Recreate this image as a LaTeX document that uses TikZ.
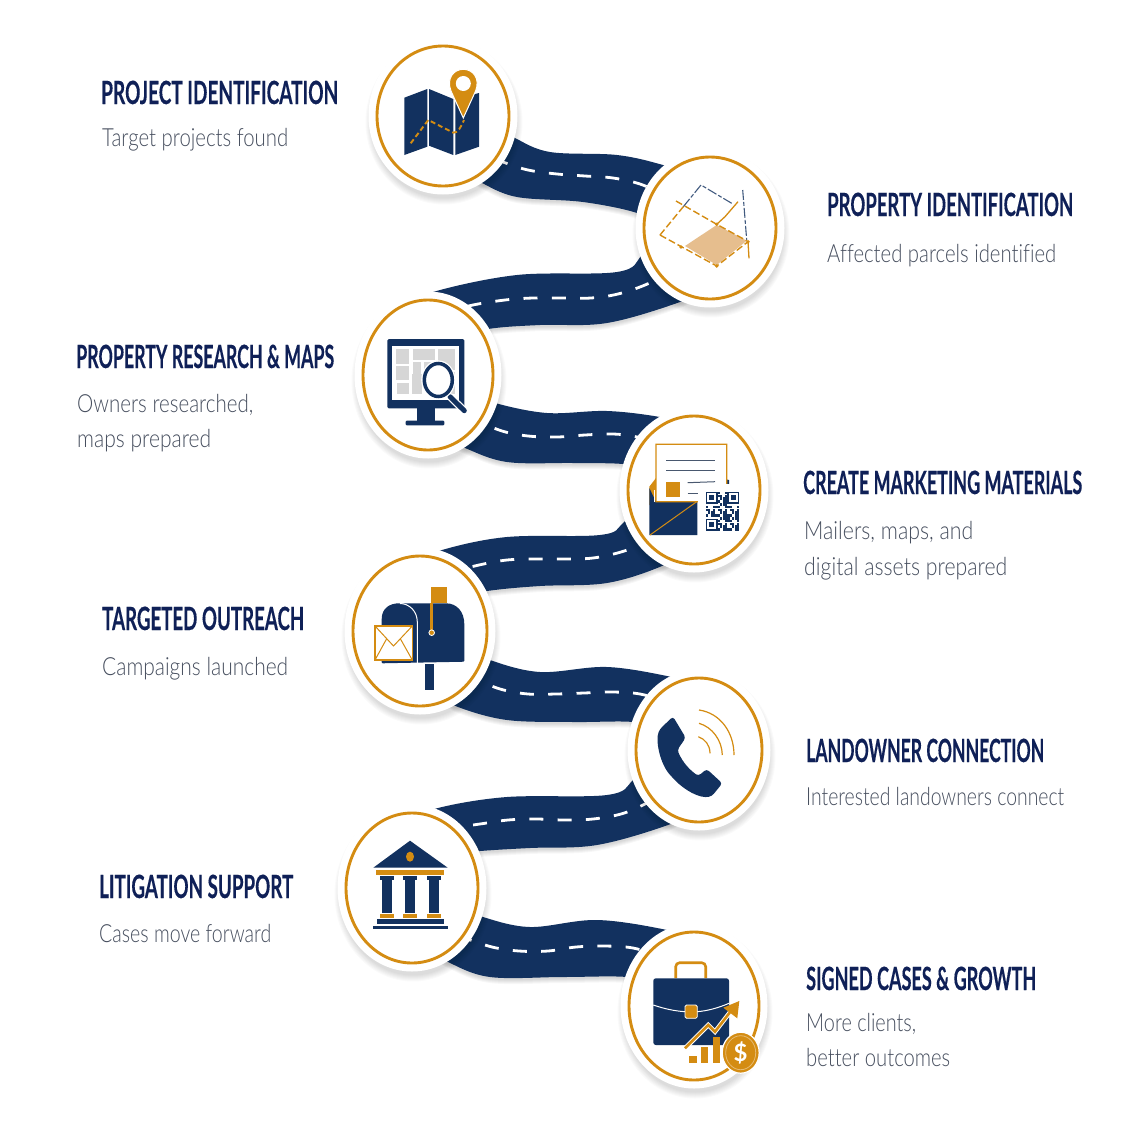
\documentclass[tikz,border=0pt]{standalone}
\usepackage{fontspec}
\usepackage{graphicx}
\usetikzlibrary{shapes.geometric}
\setmainfont{Lato}
\newfontfamily\subfont{Lato Light}[Ligatures=NoCommon]
\newfontfamily\headfont{Lato Bold}[FakeBold=0.35]
\definecolor{navy}{HTML}{12315F}
\definecolor{ink}{HTML}{0F2057}
\definecolor{gold}{HTML}{D48C12}
\definecolor{subtext}{HTML}{474F5F}
\definecolor{tan}{HTML}{E6BE8E}
\definecolor{tile}{HTML}{D6D6D6}
\tikzset{
  ringnode/.style={ellipse,draw=gold,line width=2.9pt,inner sep=0pt,fill=white},
  titletext/.style={anchor=base west,inner sep=0pt,text=ink},
  subnode/.style={anchor=base west,inner sep=0pt,text=subtext},
  dashline/.style={white,line width=2.8pt,dash pattern=on 14pt off 14.3pt,dash phase=7pt},
  golddash/.style={gold,line width=1.4pt,dash pattern=on 7pt off 3pt},
  darkdash/.style={navy!80,line width=1.1pt,dash pattern=on 10pt off 2pt on 4pt off 2pt},
}
\newcommand\mktitle[5]{\node[titletext] (#1) at (#2,#3) {\resizebox{#4pt}{\height}{\fontsize{32}{32}\headfont #5}};}
\newcommand\mksub[5]{\node[subnode] (#1) at (#2,#3) {\resizebox{#4pt}{\height}{\fontsize{25}{25}\subfont #5}};}
\newcommand\mkroad[3]{%
  \foreach \k in {2,3,4,5,6}{\begin{scope}[yshift=-\k pt]
    \fill[black,opacity=.03] plot[smooth,tension=.6] coordinates {#1} -- plot[smooth,tension=.6] coordinates {#2} -- cycle;
  \end{scope}}
  \fill[navy] plot[smooth,tension=.6] coordinates {#1} -- plot[smooth,tension=.6] coordinates {#2} -- cycle;
  \draw[dashline] plot[smooth,tension=.6] coordinates {#3};
}
\newcommand\mkdisc[5]{%
  \foreach \k in {1,...,7}{\fill[black,opacity=.02] (#2+1,#3+6) ellipse [x radius=#4+5.5+\k*1.0 pt,y radius=#5+5.5+\k*1.0 pt];}
  \fill[white] (#2,#3) ellipse [x radius=#4+8.5 pt,y radius=#5+8.5 pt];
  \node[ringnode,minimum width=#4*2pt,minimum height=#5*2pt] (#1) at (#2,#3) {};
}
\begin{document}
\begin{tikzpicture}[x=1pt,y=-1pt]
\useasboundingbox (0,0) rectangle (1122,1122);
\fill[white] (0,0) rectangle (1122,1122);

% roads
\mkroad{(500,128)(515,138)(550,152)(617,155)(663,165)(690,175)}{(650,225)(637,213)(583,202)(517,197)(482,183)(470,175)}{(475,150)(503,162)(528,170)(557,174)(585,176)(613,178)(640,184)(665,195)}
\mkroad{(660,228)(642,255)(617,272)(517,275)(433,292)(415,305)}{(440,340)(488,329)(540,325)(607,323)(680,302)(700,290)}{(447,312)(473,305)(505,300)(533,298)(563,298)(591,298)(618,294)(645,285)(672,272)}
\mkroad{(480,395)(495,403)(547,413)(607,411)(660,417)(690,425)}{(650,470)(623,464)(573,463)(507,462)(465,448)(450,440)}{(475,420)(502,431)(528,436)(557,437)(585,435)(613,434)(637,437)(665,445)}
\mkroad{(642,498)(623,523)(600,535)(507,537)(442,550)(420,562)}{(440,600)(487,591)(540,586)(607,583)(662,566)(685,550)}{(452,572)(479,565)(507,560)(536,559)(564,559)(593,558)(621,552)(648,542)}
\mkroad{(475,650)(490,660)(540,672)(607,667)(672,677)(700,685)}{(660,730)(633,722)(573,722)(507,720)(458,707)(440,695)}{(473,678)(500,689)(528,694)(556,694)(584,693)(612,692)(640,694)(668,702)}
\mkroad{(650,755)(633,780)(607,795)(507,797)(438,808)(415,820)}{(440,855)(480,851)(530,848)(597,845)(668,825)(690,812)}{(452,828)(480,824)(508,820)(536,819)(564,820)(593,819)(621,814)(643,805)(668,792)}
\mkroad{(470,910)(483,917)(530,927)(597,920)(667,930)(695,940)}{(655,985)(627,977)(563,977)(490,977)(448,962)(430,950)}{(465,938)(492,947)(519,951)(548,951)(576,947)(604,946)(633,948)(660,956)}

% discs
\mkdisc{c1}{443}{116}{66}{70}
\mkdisc{c2}{710}{228}{66}{71}
\mkdisc{c3}{428}{375}{65}{75}
\mkdisc{c4}{694}{490}{66}{74}
\mkdisc{c5}{420}{631}{67}{75}
\mkdisc{c6}{699}{750}{63}{72}
\mkdisc{c7}{412}{888}{66}{75}
\mkdisc{c8}{694}{1006}{65}{74}

% icon 1: map
\fill[navy] (404.3,97.7) -- (427.3,89) -- (427.3,146.7) -- (404.3,155) -- cycle;
\fill[navy] (429,89) -- (453.3,99) -- (453.3,155) -- (429,145.7) -- cycle;
\fill[navy] (455.3,99) -- (479,93) -- (479,146.7) -- (455.3,155) -- cycle;
\draw[gold,line width=1.9pt,dash pattern=on 5pt off 3pt] (410.7,143.3) -- (428.3,120) -- (453.3,132.7) .. controls (458,133) and (461,127) .. (464,120);
\fill[gold,draw=white,line width=1pt] (463.3,118) -- (451,91) .. controls (446,78) and (454,69.3) .. (463.3,69.3) .. controls (472.6,69.3) and (480.6,78) .. (475.6,91) -- cycle;
\fill[white] (463.3,83.5) circle [radius=7.5pt];

% icon 2: parcel
\fill[tan] (716.7,225) -- (746.7,240.7) -- (716.7,265) -- (685,246) -- cycle;
\draw[darkdash] (683.3,206.7) -- (701,185) -- (731.7,203.3);
\draw[darkdash] (742.7,190) -- (746.7,240);
\draw[golddash] (676,201) -- (716.7,224.3) -- (746.7,240.7);
\draw[golddash] (660,235) -- (683.3,206.7);
\draw[golddash] (660,235) -- (716.7,266) -- (748,241.7);
\draw[gold,line width=1.3pt] (748,241.7) -- (749,258.3);
\draw[gold,line width=1.3pt] (716.7,224.3) -- (725,216.7) -- (738,201.7);
\foreach \p in {(716.7,224.3),(716.7,266),(748,241.7),(681,247)}{\fill[gold] \p circle [radius=1.8pt];}

% icon 3: monitor
\fill[navy,rounded corners=1.5pt] (387.3,339) rectangle (464.3,408.3);
\fill[white] (391.7,346) rectangle (459.3,400);
\fill[tile] (396,349.3) rectangle (409,364);
\fill[tile] (413,349.3) rectangle (435,360);
\fill[tile] (438,349.3) rectangle (455,370);
\fill[tile] (396,366) rectangle (409,380);
\fill[tile] (413,362) rectangle (421,388);
\fill[tile] (412,374) rectangle (422,394);
\fill[tile] (397,383) rectangle (409,394);
\fill[tile] (424,362) rectangle (436,370);
\fill[tile] (442,372) rectangle (455,394);
\fill[navy] (416.7,408) rectangle (435,421);
\fill[navy,rounded corners=1pt] (405.7,420.7) rectangle (444.3,425.3);
\draw[white,line width=7.5pt,line cap=round] (450,396.7) -- (464.3,410.7);
\draw[navy,line width=5pt,line cap=round] (450,396.7) -- (464.3,410.7);
\draw[white,line width=1.2pt] (438.3,380) ellipse [x radius=16.5pt,y radius=19pt];
\draw[navy,line width=3.5pt,fill=white] (438.3,380) ellipse [x radius=14pt,y radius=16.5pt];

% icon 4: envelope and QR
\fill[gold] (649.3,486.7) -- (656,478) -- (660,505) -- (649.3,505) -- cycle;
\fill[navy] (649.3,535) -- (649.3,488) -- (656,501.7) -- (697.3,501.7) -- (697.3,535) -- cycle;
\fill[navy] (720,478) -- (729,480) -- (729,490) -- (720,490) -- cycle;
\fill[white,draw=gold,line width=1.2pt] (656,501.7) -- (656,444.3) -- (726.7,444.3) -- (726.7,490) -- (700,501.7) -- cycle;
\fill[white] (654,490) rectangle (655.4,501.7);
\draw[gold,line width=1pt] (650,535) -- (696.7,501.7);
\fill[gold] (666,481.7) rectangle (680,496.7);
\draw[navy!50!gray,line width=1pt] (666,460) -- (715,460);
\draw[navy!50!gray,line width=1pt] (666,470.7) -- (715,470.7);
\draw[navy!50!gray,line width=1pt] (687.7,482.7) -- (715,481.7);
\draw[navy!50!gray,line width=1pt] (687.7,493.3) -- (698.3,493.3);
\fill[white] (698,484) rectangle (742,533);
\foreach \fx/\fy in {705.7/491.7,727/491.7,705.7/518.5}{
  \draw[navy,line width=1.6pt] (\fx+.8,\fy+.8) rectangle (\fx+11.4,\fy+11.4);
  \fill[navy] (\fx+3.6,\fy+3.6) rectangle (\fx+8.6,\fy+8.6);
}
\foreach \i in {0,...,13}{\foreach \j in {0,...,13}{
  \pgfmathtruncatemacro\on{mod(\i*\i*3+\j*\j*5+\i*\j+\i+2*\j,5)<3?1:0}
  \pgfmathtruncatemacro\skipit{((\i<5&&\j<5)||(\i>8&&\j<5)||(\i<5&&\j>8))?1:0}
  \ifnum\on=1 \ifnum\skipit=0
    \fill[navy] (705.7+\i*2.4,491.7+\j*2.8) rectangle ++(2.3,2.7);
  \fi\fi
}}

% icon 5: mailbox
\fill[navy] (425.3,664.3) rectangle (434.3,690);
\fill[navy,rounded corners=1pt] (381.7,663.3) -- (381.7,620) .. controls (381.7,608) and (390,603.3) .. (400,603.3) -- (445,603.3) .. controls (457,603.3) and (464.3,612) .. (464.3,625) -- (464.3,661.7) -- cycle;
\draw[white,line width=1pt] (417.3,663.3) -- (417.3,622) .. controls (417.3,611) and (409,603.5) .. (400,603.5);
\fill[gold] (431,587.3) rectangle (446.7,602.7);
\fill[gold] (430,602.7) rectangle (433,631.7);
\fill[gold,draw=white,line width=.8pt] (431.7,632.7) circle [radius=2.8pt];
\fill[white,draw=gold,line width=1.2pt] (375,626) rectangle (412.3,660);
\draw[gold,line width=1pt] (375,626) -- (393.5,646) -- (412.3,626);
\draw[gold,line width=1pt] (375,660) -- (386.5,639) (412.3,660) -- (400.5,639);

% icon 6: phone
\fill[navy,rounded corners=3pt] (673,716.5) -- (685.7,737.7) -- (677.3,750) .. controls (683,763) and (690,770) .. (698.3,776) -- (706.7,769) -- (722.3,783.3) -- (712,796) .. controls (700,799) and (684,790) .. (672,777) .. controls (660,764) and (655,740) .. (660,729) -- cycle;
\draw[gold,line width=1.2pt] (698.3,736.7) .. controls (705,739) and (710,745) .. (710,753.3);
\draw[gold,line width=1.2pt] (699,723.3) .. controls (712,727) and (722,740) .. (722.3,755);
\draw[gold,line width=1.2pt] (699,710) .. controls (720,713) and (734,732) .. (734,755);

% icon 7: courthouse
\fill[navy] (410,840.7) -- (447.7,867.7) -- (373.3,867.7) -- cycle;
\fill[gold] (410,856.7) ellipse [x radius=4pt,y radius=5pt];
\fill[gold] (375.7,870) rectangle (444.3,874.7);
\foreach \cx in {380,403.3,426.7}{
  \fill[navy] (\cx,876) rectangle (\cx+14,880);
  \fill[navy] (\cx+2,880) rectangle (\cx+12,912.7);
  \fill[gold] (\cx,914) rectangle (\cx+14,917.7);
}
\fill[navy] (376.7,919.3) rectangle (444,924);
\fill[navy] (373.3,925.7) rectangle (447.7,929.3);

% icon 8: briefcase
\draw[gold,line width=2.6pt,rounded corners=4pt] (675.7,978) -- (675.7,962.7) -- (705.7,962.7) -- (705.7,978);
\fill[navy,rounded corners=2.5pt] (653.3,978.3) rectangle (729,1045);
\draw[white,line width=1pt] (653.3,1005) .. controls (665,1009) and (675,1011) .. (685,1011.7) -- (696.7,1011.7) .. controls (707,1011) and (718,1008) .. (729,1003.3);
\fill[gold,draw=white,line width=.8pt,rounded corners=1.5pt] (685,1005) rectangle (697.3,1018.3);
\draw[white,line width=4.5pt] (685,1048.3) -- (708.3,1025) -- (715,1031.7) -- (731.7,1010);
\draw[gold,line width=2.6pt] (685,1048.3) -- (708.3,1025) -- (715,1031.7) -- (731.7,1010);
\fill[gold] (739.3,1001) -- (737.3,1018.3) -- (723.3,1007.7) -- cycle;
\fill[gold] (688.7,1055.7) rectangle (696.7,1063.3);
\fill[gold] (700.7,1047.3) rectangle (708.3,1063.3);
\fill[gold] (712.7,1037.3) rectangle (720,1063.3);
\fill[gold,draw=white,line width=1.2pt] (740.7,1052.7) ellipse [x radius=18.5pt,y radius=20.5pt];
\draw[gold!60!white,line width=.8pt] (740.7,1052.7) ellipse [x radius=15pt,y radius=17pt];
\node[inner sep=0pt,text=white] (dollar) at (740.7,1052.7) {\fontsize{24}{24}\selectfont\bfseries\$};

% texts
\mktitle{t1}{101}{104}{237}{PROJECT IDENTIFICATION}
\mksub{s1}{102}{146}{186}{Target projects found}
\mktitle{t2}{827}{216}{246}{PROPERTY IDENTIFICATION}
\mksub{s2}{827}{262}{229}{Affected parcels identified}
\mktitle{t3}{76}{368}{258}{PROPERTY RESEARCH \& MAPS}
\mksub{s3a}{77}{412}{176}{Owners researched,}
\mksub{s3b}{77}{447}{134}{maps prepared}
\mktitle{t4}{803}{494}{279}{CREATE MARKETING MATERIALS}
\mksub{s4a}{804}{539}{169}{Mailers, maps, and}
\mksub{s4b}{804}{575}{203}{digital assets prepared}
\mktitle{t5}{102}{630}{202}{TARGETED OUTREACH}
\mksub{s5}{102}{675}{186}{Campaigns launched}
\mktitle{t6}{806}{762}{238}{LANDOWNER CONNECTION}
\mksub{s6}{806}{805}{258}{Interested landowners connect}
\mktitle{t7}{99}{898}{194}{LITIGATION SUPPORT}
\mksub{s7}{99}{942}{172}{Cases move forward}
\mktitle{t8}{806}{990}{230}{SIGNED CASES \& GROWTH}
\mksub{s8a}{806}{1031}{110}{More clients,}
\mksub{s8b}{806}{1066}{144}{better outcomes}
\end{tikzpicture}
\end{document}
